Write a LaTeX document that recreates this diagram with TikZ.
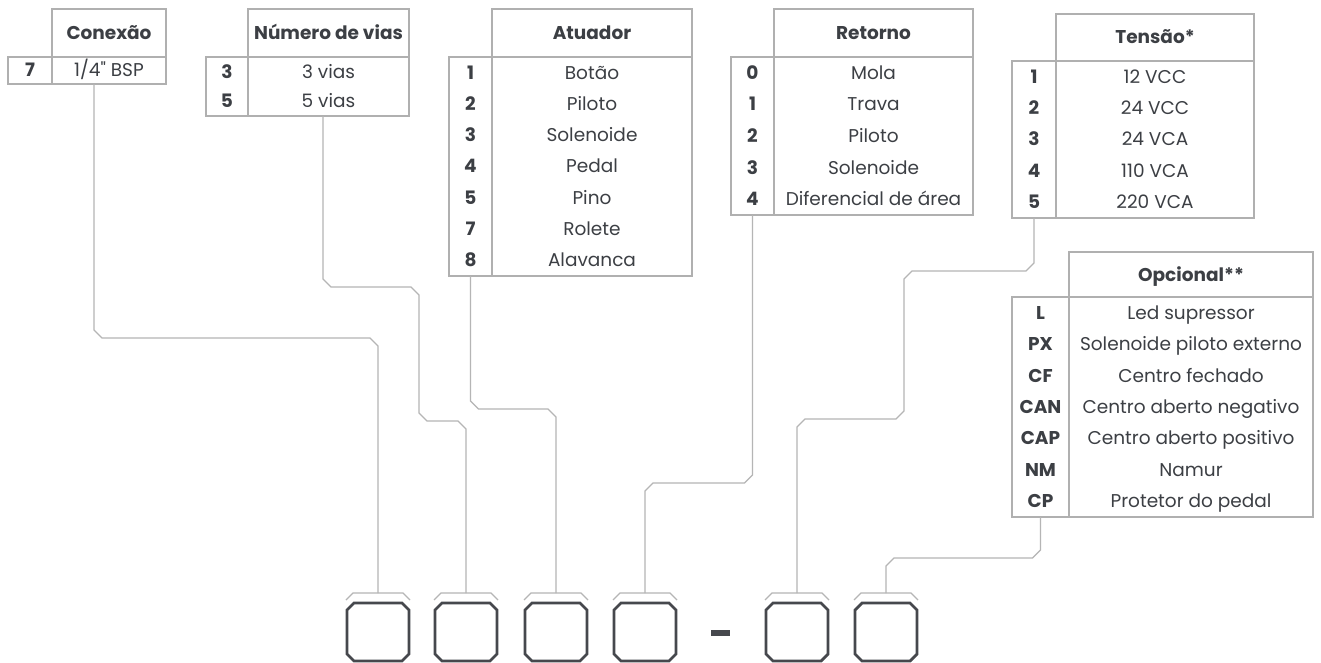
\documentclass[tikz,border=0pt]{standalone}
\usepackage{fontspec}
\setmainfont{Poppins}[Ligatures=TeXOff]
\usetikzlibrary{calc}
\definecolor{txt}{HTML}{3C3F44}
\definecolor{rulec}{HTML}{B0B0B0}
\definecolor{wirec}{HTML}{B5B5B5}
\definecolor{boxc}{HTML}{46484D}
\tikzset{
 cell/.style={draw=rulec, line width=1.1pt, inner sep=0pt, outer sep=0pt, anchor=north west},
 lbl/.style={text=txt, font=\fontsize{18.5}{20}\selectfont, inner sep=0pt, text height=13pt, text depth=0pt},
 hdr/.style={lbl, font=\fontsize{18.5}{20}\selectfont\bfseries},
 numc/.style={lbl, font=\fontsize{18.5}{20}\selectfont\bfseries},
 wire/.style={draw=wirec, line width=1.2pt},
 capline/.style={draw=wirec, line width=1.1pt},
 slot/.style={draw=boxc, line width=2.8pt},
}
\newcommand\mktab[9]{%
 \foreach \a/\b [count=\k] in {#9} {\xdef\nrows{\k}}%
 \pgfmathsetmacro\rh{(#7-#6)/\nrows}%
 \node[cell, minimum width={(#4-#3)*1pt}, minimum height={(#6-#5)*1pt}] (#1h) at (#3,#5) {};
 \node[hdr] (#1ht) at (#1h.center) {#8};
 \node[cell, minimum width={(#3-#2)*1pt}, minimum height={(#7-#6)*1pt}] (#1n) at (#2,#6) {};
 \node[cell, minimum width={(#4-#3)*1pt}, minimum height={(#7-#6)*1pt}] (#1c) at (#3,#6) {};
 \foreach \a/\b [count=\k] in {#9} {
   \node[numc] (#1a\k) at ({(#2+#3)/2},{#6+(\k-0.5)*\rh}) {\a};
   \node[lbl] (#1b\k) at ({(#3+#4)/2},{#6+(\k-0.5)*\rh}) {\b};
 }%
}
\begin{document}
\begin{tikzpicture}[x=1pt,y=-1pt]
\useasboundingbox (0,0) rectangle (1321,663);
\fill[white] (0,0) rectangle (1321,663);

\mktab{ta}{8}{52}{166}{9}{57}{84}{Conexão}{7/{1/4" BSP}}
\mktab{tb}{206}{248}{409}{9}{57}{116}{Número de vias}{3/3 vias,5/5 vias}
\mktab{tc}{449}{492}{692}{9}{57}{276}{Atuador}{1/Botão,2/Piloto,3/Solenoide,4/Pedal,5/Pino,7/Rolete,8/Alavanca}
\mktab{td}{731}{774}{973}{9}{57}{215}{Retorno}{0/Mola,1/Trava,2/Piloto,3/Solenoide,4/Diferencial de área}
\mktab{te}{1012}{1056}{1254}{14}{61}{218}{Tensão*}{1/12 VCC,2/24 VCC,3/24 VCA,4/110 VCA,5/220 VCA}
\mktab{tf}{1012}{1069}{1313}{252}{297}{517}{Opcional**}{L/Led supressor,PX/Solenoide piloto externo,CF/Centro fechado,CAN/Centro aberto negativo,CAP/Centro aberto positivo,NM/Namur,CP/Protetor do pedal}

\foreach \c [count=\i] in {378,466,556,645,797,886} {
  \node[minimum width=62pt, minimum height=58pt, inner sep=0pt] (s\i) at (\c,632) {};
  \draw[slot] (\c-31,610) -- (\c-24,603) -- (\c+24,603) -- (\c+31,610) -- (\c+31,654) -- (\c+24,661) -- (\c-24,661) -- (\c-31,654) -- cycle;
  \draw[capline] (\c-32,600) -- (\c-25,593) -- (\c+25,593) -- (\c+32,600);
  \coordinate (s\i c) at (\c,593);
}
\node[fill=boxc, minimum width=19pt, minimum height=6pt, inner sep=0pt] (dash) at (720.5,633) {};

\draw[wire] ([xshift=42pt]tac.south west) -- (94,330) -- (102,338) -- (370,338) -- (378,346) -- (s1c);
\draw[wire] ([xshift=75pt]tbc.south west) -- (323,279) -- (331,287) -- (411,287) -- (419,295) -- (419,413) -- (427,421) -- (458,421) -- (466,429) -- (s2c);
\draw[wire] (tcn.south) -- (470.5,401) -- (478.5,409) -- (548,409) -- (556,417) -- (s3c);
\draw[wire] (tdn.south) -- (752.5,475) -- (744.5,483) -- (653,483) -- (645,491) -- (s4c);
\draw[wire] (ten.south) -- (1034,263) -- (1026,271) -- (912,271) -- (904,279) -- (904,411) -- (896,419) -- (805,419) -- (797,427) -- (s5c);
\draw[wire] (tfn.south) -- (1040.5,550) -- (1032.5,558) -- (894,558) -- (886,566) -- (s6c);
\end{tikzpicture}
\end{document}
